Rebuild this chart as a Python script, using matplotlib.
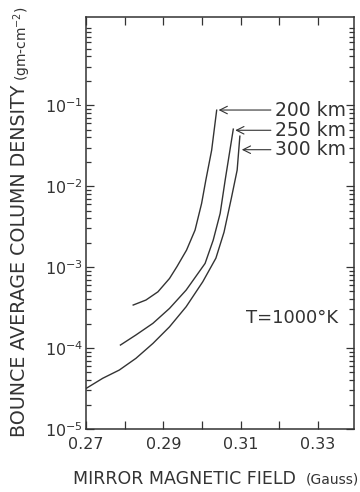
import matplotlib
matplotlib.use("Agg")
from matplotlib import pyplot as plt
from matplotlib.ticker import LogLocator, FixedFormatter, FixedLocator, NullFormatter

plt.rcParams["font.family"] = "DejaVu Sans"
plt.rcParams["mathtext.fontset"] = "dejavusans"

INK = "#333333"

# curvas: campo magnetico de espejo (Gauss) vs densidad de columna
campo_200 = [0.2822, 0.2855, 0.2886, 0.2916, 0.2935, 0.2960, 0.2982, 0.2999, 0.3010, 0.3025, 0.3038]
dens_200 = [3.40e-4, 3.92e-4, 4.95e-4, 7.24e-4, 1.01e-3, 1.62e-3, 2.86e-3, 6.11e-3, 1.19e-2,
            2.78e-2, 8.67e-2]

campo_250 = [0.2789, 0.2829, 0.2873, 0.2916, 0.2959, 0.3008, 0.3029, 0.3047, 0.3060, 0.3081]
dens_250 = [1.09e-4, 1.45e-4, 2.02e-4, 3.09e-4, 5.20e-4, 1.11e-3, 2.15e-3, 4.60e-3, 1.19e-2, 5.06e-2]

campo_300 = [0.2700, 0.2743, 0.2786, 0.2829, 0.2873, 0.2916, 0.2959, 0.3002, 0.3036, 0.3057,
             0.3076, 0.3091, 0.3098]
dens_300 = [3.17e-5, 4.23e-5, 5.35e-5, 7.46e-5, 1.14e-4, 1.83e-4, 3.24e-4, 6.59e-4, 1.29e-3,
            2.70e-3, 7.11e-3, 1.58e-2, 4.14e-2]

etiquetas = ["200 km", "250 km", "300 km"]
x_ticks = [0.27, 0.28, 0.29, 0.30, 0.31, 0.32, 0.33]
x_labels = ["0.27", "", "0.29", "", "0.31", "", "0.33"]
y_ticks = [1e-5, 1e-4, 1e-3, 1e-2, 1e-1]
y_labels = [r"$10^{-5}$", r"$10^{-4}$", r"$10^{-3}$", r"$10^{-2}$", r"$10^{-1}$"]

fig = plt.figure(figsize=(3.6, 4.92), dpi=100)
ax = fig.add_axes([0.239, 0.128, 0.744, 0.837])

series = [(campo_200, dens_200), (campo_250, dens_250), (campo_300, dens_300)]
for xs, ys in series:
    ax.plot(xs, ys, color=INK, lw=1.0)

ax.set_yscale("log")
ax.set_xlim(0.27, 0.3393)
ax.set_ylim(1e-5, 1.22)

ax.xaxis.set_major_locator(FixedLocator(x_ticks))
ax.xaxis.set_major_formatter(FixedFormatter(x_labels))
ax.yaxis.set_major_locator(FixedLocator(y_ticks))
ax.yaxis.set_major_formatter(FixedFormatter(y_labels))
ax.yaxis.set_minor_locator(LogLocator(base=10, subs=range(2, 10)))
ax.yaxis.set_minor_formatter(NullFormatter())

ax.tick_params(which="both", direction="in", top=True, right=True, colors=INK,
               labelsize=11.5, width=0.9)
ax.tick_params(which="major", length=6)
ax.tick_params(which="minor", length=3.5)
ax.tick_params(axis="x", pad=6)
ax.tick_params(axis="y", pad=2)
for s in ax.spines.values():
    s.set_color(INK)
    s.set_linewidth(1.1)

# flechas horizontales hacia el extremo de cada curva
nivel_texto = [10 ** -1.06, 10 ** -1.31, 10 ** -1.55]
for (xs, ys), lab, yt in zip(series, etiquetas, nivel_texto):
    ax.annotate(lab, xy=(xs[-1] + 0.0005, yt), xytext=(0.3189, yt), textcoords="data",
                fontsize=13.5, color=INK, ha="left", va="center",
                arrowprops=dict(arrowstyle="->", color=INK, lw=0.8,
                                shrinkA=1, shrinkB=0, relpos=(0, 0.5)),
                annotation_clip=False)

ax.text(0.3115, 10 ** -3.63, "T=1000°K", fontsize=13, color=INK, ha="left", va="center")

fig.text(0.202, 0.026, "MIRROR MAGNETIC FIELD", fontsize=12.5, color=INK, ha="left", va="center")
fig.text(0.848, 0.026, "(Gauss)", fontsize=10, color=INK, ha="left", va="center")
fig.text(0.055, 0.112, "BOUNCE AVERAGE COLUMN DENSITY", fontsize=13.7, color=INK,
         ha="center", va="bottom", rotation=90)
fig.text(0.062, 0.836, r"(gm-cm$^{-2}$)", fontsize=10, color=INK,
         ha="center", va="bottom", rotation=90)

fig.savefig("out.png", dpi=100)
